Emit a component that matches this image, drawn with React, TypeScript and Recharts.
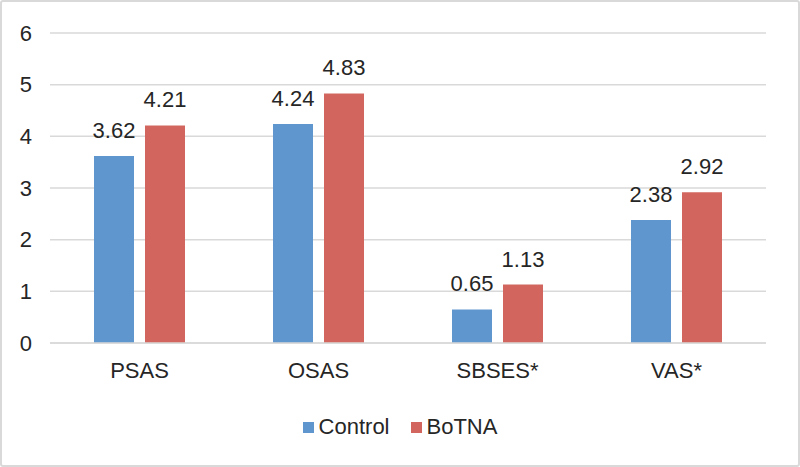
import React from 'react';
import { BarChart, Bar, XAxis, YAxis, CartesianGrid, Legend, LabelList } from 'recharts';

const categories = ['PSAS', 'OSAS', 'SBSES*', 'VAS*'];
const controlValues = [3.62, 4.24, 0.65, 2.38];
const botnaValues = [4.21, 4.83, 1.13, 2.92];
const yTicks = [0, 1, 2, 3, 4, 5, 6];
const seriesNames = ['Control', 'BoTNA'];
const seriesColors = ['#6096CE', '#D2665E'];

const data = categories.map((c, i) => ({ name: c, Control: controlValues[i], BoTNA: botnaValues[i] }));

const FONT = '"Liberation Sans", Arial, sans-serif';

const LegendContent = () => (
  <div style={{ display: 'flex', justifyContent: 'center', alignItems: 'center', fontFamily: FONT, fontSize: 22, color: '#262626' }}>
    {seriesNames.map((n, i) => (
      <div key={n} style={{ display: 'flex', alignItems: 'center', marginRight: i === 0 ? 21 : 0 }}>
        <span style={{ display: 'inline-block', width: 11, height: 11, background: seriesColors[i], marginRight: 5 }} />
        <span>{n}</span>
      </div>
    ))}
  </div>
);

export default function App() {
  return (
    <div style={{ position: 'absolute', left: 0, top: 0, width: 800, height: 467, background: '#fff', border: '2px solid #d9d9d9', boxSizing: 'border-box', borderRadius: 3, fontFamily: FONT }}>
      <div style={{ position: 'absolute', left: -2, top: -2 }}>
        <BarChart
          width={800}
          height={467}
          data={data}
          margin={{ top: 33, right: 34, left: 0, bottom: 30 }}
          barGap={11}
          barSize={40}
        >
          <CartesianGrid vertical={false} stroke="#d9d9d9" strokeWidth={1.5} />
          <XAxis
            dataKey="name"
            axisLine={{ stroke: '#d9d9d9', strokeWidth: 1.5 }}
            tickLine={false}
            tick={{ fill: '#262626', fontSize: 22, fontFamily: FONT }}
            tickMargin={13}
            height={45}
          />
          <YAxis
            domain={[0, 6]}
            ticks={yTicks}
            axisLine={false}
            tickLine={false}
            tick={{ fill: '#262626', fontSize: 22, fontFamily: FONT }}
            tickMargin={12}
            width={50}
          />
          <Legend
            verticalAlign="bottom"
            align="center"
            height={49}
            content={LegendContent}
            wrapperStyle={{ top: 414, bottom: 'auto', left: 0, width: 800 }}
          />
          <Bar dataKey="Control" fill={seriesColors[0]} isAnimationActive={false}>
            <LabelList dataKey="Control" position="top" offset={18} fill="#262626" fontSize={22} fontFamily={FONT} />
          </Bar>
          <Bar dataKey="BoTNA" fill={seriesColors[1]} isAnimationActive={false}>
            <LabelList dataKey="BoTNA" position="top" offset={18} fill="#262626" fontSize={22} fontFamily={FONT} />
          </Bar>
        </BarChart>
      </div>
    </div>
  );
}
